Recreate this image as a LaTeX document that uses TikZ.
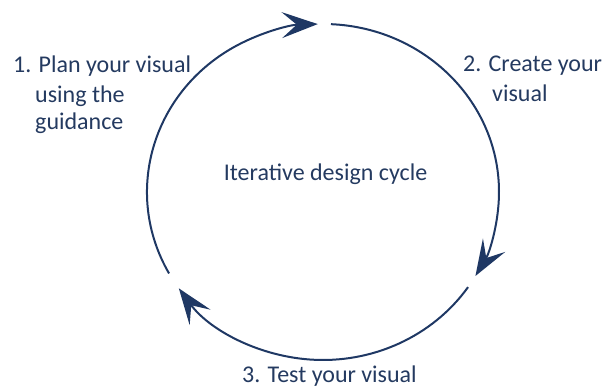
\documentclass[tikz,border=0pt]{standalone}
\usepackage{fontspec}
\setmainfont{Carlito}
\usetikzlibrary{arrows.meta}
\definecolor{navy}{RGB}{31,56,100}
\definecolor{txt}{RGB}{36,58,96}
\tikzset{
  cyc/.style={draw=navy, line width=2pt, -{Stealth[length=36pt,width=26pt,inset=15pt]}},
  lbl/.style={text=txt, font=\fontsize{24}{28}\selectfont, inner sep=0pt}
}
\begin{document}
\begin{tikzpicture}[x=1pt,y=1pt]
\useasboundingbox (0,0) rectangle (604,390);
\coordinate (c) at (323,198);
\draw[cyc] (c) ++(209:176 and 168) arc[start angle=209, end angle=91.7, x radius=176, y radius=168];
\draw[cyc] (c) ++(87.4:176 and 168) arc[start angle=87.4, end angle=-30, x radius=176, y radius=168];
\draw[cyc] (c) ++(-34.5:176 and 168) arc[start angle=-34.5, end angle=-145, x radius=176, y radius=168];
\node[lbl, anchor=base] (mid) at (325.5,209) {Iterative design cycle};
\node[lbl, anchor=base west] (p1a) at (13,317) {1. Plan your visual};
\node[lbl, anchor=base west] (p1b) at (35,287) {using the};
\node[lbl, anchor=base west] (p1c) at (35,260) {guidance};
\node[lbl, anchor=base west] (p2a) at (463,318) {2. Create your};
\node[lbl, anchor=base west] (p2b) at (492,288) {visual};
\node[lbl, anchor=base] (p3) at (329.5,7) {3. Test your visual};
\end{tikzpicture}
\end{document}
